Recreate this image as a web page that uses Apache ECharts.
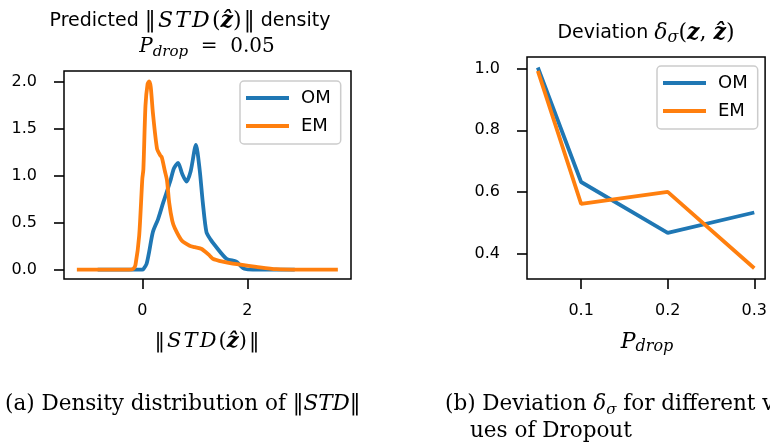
<!DOCTYPE html>
<html><head><meta charset="utf-8">
<script src="https://cdn.jsdelivr.net/npm/echarts@6/dist/echarts.min.js"></script>
<style>html,body{margin:0;padding:0;background:#fff}#c{width:770px;height:443px}</style>
</head><body><div id="c"></div>
<script>
// ---- data ----
const seriesNames = ['OM', 'EM'];
const densityOmX = [-0.85, -0.4, 0.0, 0.02, 0.08, 0.13, 0.2, 0.3, 0.4, 0.53, 0.6, 0.68, 0.76, 0.84, 0.92, 1.02, 1.09, 1.15, 1.22, 1.3, 1.38, 1.6, 1.79, 1.87, 1.94, 2.1, 2.5, 2.9];
const densityOmY = [0, 0, 0, 0.005, 0.06, 0.19, 0.40, 0.54, 0.72, 0.94, 1.08, 1.14, 1.02, 0.94, 1.05, 1.33, 1.07, 0.72, 0.40, 0.32, 0.26, 0.117, 0.085, 0.04, 0.01, 0, 0, 0];
const densityEmX = [-1.245, -0.6, -0.25, -0.17, -0.13, -0.06, 0.0, 0.02, 0.06, 0.1, 0.13, 0.16, 0.2, 0.28, 0.34, 0.37, 0.43, 0.47, 0.51, 0.57, 0.62, 0.75, 0.9, 1.0, 1.13, 1.28, 1.34, 1.53, 1.72, 2.17, 2.55, 3.0, 3.72];
const densityEmY = [0, 0, 0, 0.01, 0.05, 0.36, 0.97, 1.07, 1.75, 1.98, 2.01, 1.95, 1.68, 1.29, 1.22, 1.2, 1.05, 0.95, 0.72, 0.52, 0.44, 0.31, 0.255, 0.24, 0.22, 0.15, 0.117, 0.085, 0.064, 0.03, 0.005, 0, 0];
const pDrop = [0.05, 0.1, 0.2, 0.3];
const deviationOm = [1.004, 0.632, 0.467, 0.533];
const deviationEm = [0.993, 0.561, 0.600, 0.352];
const densityXTicks = [0, 2];
const densityYTicks = [0, 0.5, 1.0, 1.5, 2.0];
const pDropTicks = [0.1, 0.2, 0.3];
const deviationYTicks = [0.4, 0.6, 0.8, 1.0];

const colors = ['#1f77b4', '#ff7f0e'];
const zip = (xs, ys) => xs.map((x, i) => [x, ys[i]]);
const sans = 'DejaVu Sans';
const serif = 'DejaVu Serif';
const hs = '\u200A';

function axis(gridIndex, min, max, ticks, fmt, margin) {
  return {
    type: 'value', gridIndex, min, max, scale: true,
    splitLine: { show: false },
    axisLine: { show: false, onZero: false },
    axisTick: { show: true, length: 10, lineStyle: { color: '#000', width: 1.6 }, customValues: ticks },
    axisLabel: { show: true, customValues: ticks, formatter: fmt, color: '#000', fontFamily: sans, fontSize: 16, margin: margin }
  };
}
const f1 = v => Number(v).toFixed(1);
const f0 = v => String(Math.round(v));

function mk(size, subSize) {
  return {
    s: { fontFamily: sans, fontSize: 19, lineHeight: 26, fill: '#000' },
    m: { fontFamily: serif, fontSize: size, lineHeight: 26, fill: '#000' },
    i: { fontFamily: serif, fontStyle: 'italic', fontSize: size, lineHeight: 26, fill: '#000' },
    b: { fontFamily: serif, fontStyle: 'italic', fontWeight: 'bold', fontSize: size, lineHeight: 26, fill: '#000' },
    sub: { fontFamily: serif, fontStyle: 'italic', fontSize: subSize, lineHeight: 14, verticalAlign: 'bottom', fill: '#000' },
    r: { fontFamily: serif, fontSize: 21.5, lineHeight: 28, fill: '#000' },
    ri: { fontFamily: serif, fontStyle: 'italic', fontSize: 21.5, lineHeight: 28, fill: '#000' },
    rsub: { fontFamily: serif, fontStyle: 'italic', fontSize: 15, lineHeight: 14, verticalAlign: 'bottom', fill: '#000' }
  };
}
function txt(text, x, y, align, size, subSize) {
  return { type: 'text', x: x, y: y, style: { text: text, rich: mk(size || 20, subSize || 15), align: align || 'center', verticalAlign: 'middle', fill: '#000' } };
}
const stdExpr = '{m|‖' + hs + '}{i|S' + hs + 'T' + hs + 'D' + hs + '}{m|(}{b|ẑ}{m|)' + hs + '‖}';

const legendBase = {
  orient: 'vertical', data: seriesNames, icon: 'rect', itemWidth: 43, itemHeight: 4, itemGap: 10,
  padding: [8, 10, 9, 6], backgroundColor: 'rgba(255,255,255,0.8)', borderColor: '#cccccc', borderWidth: 1.5, borderRadius: 4,
  textStyle: { fontFamily: sans, fontSize: 18, color: '#000', padding: [0, 0, 0, 7] }
};

const option = {
  animation: false,
  color: colors,
  grid: [
    { left: 64, top: 71, width: 287, height: 208, show: true, borderColor: '#000', borderWidth: 1.5, backgroundColor: 'transparent' },
    { left: 527, top: 57, width: 239, height: 222, show: true, borderColor: '#000', borderWidth: 1.5, backgroundColor: 'transparent' }
  ],
  xAxis: [
    axis(0, -1.49, 3.97, densityXTicks, f0, 24),
    axis(1, 0.0375, 0.3125, pDropTicks, f1, 24)
  ],
  yAxis: [
    axis(0, -0.1, 2.12, densityYTicks, f1, 27),
    axis(1, 0.317, 1.038, deviationYTicks, f1, 27)
  ],
  legend: [
    Object.assign({}, legendBase, { left: 240, top: 81 }),
    Object.assign({}, legendBase, { left: 657, top: 66 })
  ],
  series: [
    { name: seriesNames[0], type: 'line', xAxisIndex: 0, yAxisIndex: 0, data: zip(densityOmX, densityOmY), showSymbol: false, smooth: 0.25, lineStyle: { width: 3.8, color: colors[0] }, itemStyle: { color: colors[0] } },
    { name: seriesNames[1], type: 'line', xAxisIndex: 0, yAxisIndex: 0, data: zip(densityEmX, densityEmY), showSymbol: false, smooth: 0.25, lineStyle: { width: 3.8, color: colors[1] }, itemStyle: { color: colors[1] } },
    { name: seriesNames[0], type: 'line', xAxisIndex: 1, yAxisIndex: 1, data: zip(pDrop, deviationOm), showSymbol: false, lineStyle: { width: 3.8, color: colors[0] }, itemStyle: { color: colors[0] } },
    { name: seriesNames[1], type: 'line', xAxisIndex: 1, yAxisIndex: 1, data: zip(pDrop, deviationEm), showSymbol: false, lineStyle: { width: 3.8, color: colors[1] }, itemStyle: { color: colors[1] } }
  ],
  graphic: [
    txt('{s|Predicted }' + stdExpr + '{s| density}', 190, 21, 'center', 22, 15),
    txt('{i|P}{sub|drop}{m|  =  0.05}', 207, 47, 'center', 20, 15),
    txt('{s|Deviation }{i|δ}{sub|σ}{m|(}{b|z}{m|, }{b|ẑ}{m|)}', 646, 33, 'center', 22, 16),
    txt(stdExpr, 207, 342, 'center', 21, 15),
    txt('{i|P}{sub|drop}', 647, 342, 'center', 22, 16),
    txt('{r|(a) Density distribution of ‖}{ri|STD}{r|‖}', 5, 404, 'left'),
    txt('{r|(b) Deviation }{ri|δ}{rsub|σ}{r| for different val-}', 445, 404, 'left'),
    txt('{r|ues of Dropout}', 470, 431, 'left')
  ]
};
const chart = echarts.init(document.getElementById('c'), null, { renderer: 'canvas' });
chart.setOption(option);
</script>
</body></html>
